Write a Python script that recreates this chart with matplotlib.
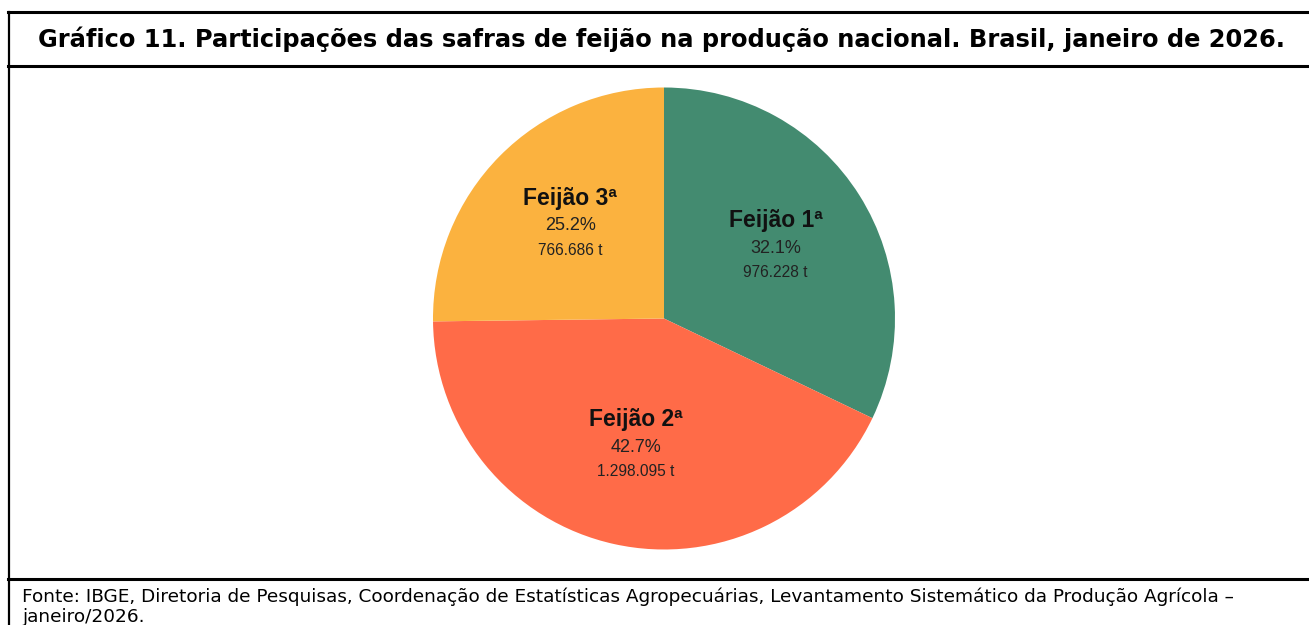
import os
import numpy as np
import matplotlib
matplotlib.use("Agg")
import matplotlib.pyplot as plt
from matplotlib import font_manager
from matplotlib.lines import Line2D
from matplotlib.font_manager import FontProperties

# data
safras = ["Feijão 1ª", "Feijão 2ª", "Feijão 3ª"]
participacao = [32.1, 42.7, 25.2]
toneladas = ["976.228 t", "1.298.095 t", "766.686 t"]
cores = ["#438B70", "#FF6B48", "#FBB23F"]

titulo = "Gráfico 11. Participações das safras de feijão na produção nacional. Brasil, janeiro de 2026."
fonte1 = ("Fonte: IBGE, Diretoria de Pesquisas, Coordenação de Estatísticas Agropecuárias, "
          "Levantamento Sistemático da Produção Agrícola –")
fonte2 = "janeiro/2026."


def liberation(bold=False):
    # pick the regular-width Liberation Sans file, never the Narrow one
    want = "LiberationSans-Bold.ttf" if bold else "LiberationSans-Regular.ttf"
    for f in font_manager.fontManager.ttflist:
        if os.path.basename(f.fname) == want:
            return f.fname
    return None


def props(size, bold=False):
    fn = liberation(bold)
    if fn:
        return FontProperties(fname=fn, size=size)
    return FontProperties(family="DejaVu Sans", size=size,
                          weight="bold" if bold else "normal")


W, H = 1309, 625
fig = plt.figure(figsize=(W / 100, H / 100), dpi=100)


def fx(x):
    return x / W


def fy(y):
    return 1 - y / H


def fit_width(txt, target_px):
    # shrink/grow the font until the text spans target_px
    r = fig.canvas.get_renderer()
    w = txt.get_window_extent(renderer=r).width
    txt.set_fontsize(txt.get_fontsize() * target_px / w)


# frame lines
def hline(y, x0=8, x1=W):
    fig.add_artist(Line2D([fx(x0), fx(x1)], [fy(y), fy(y)], color="black", lw=2.2,
                          transform=fig.transFigure))


hline(12)
hline(66)
hline(579)
fig.add_artist(Line2D([fx(8.5), fx(8.5)], [fy(12), fy(H)], color="black", lw=1.6,
                      transform=fig.transFigure))

t = fig.text(fx(661.5), fy(39), titulo, ha="center", va="center", fontsize=18,
             fontweight="bold", family="DejaVu Sans")
fit_width(t, 1253)

f1 = fig.text(fx(22), fy(597), fonte1, ha="left", va="center", fontsize=12,
              family="DejaVu Sans")
fit_width(f1, 1210)
f2 = fig.text(fx(22), fy(617), fonte2, ha="left", va="center",
              fontsize=f1.get_fontsize(), family="DejaVu Sans")

# pie
cx, cy, r = 664, 318.5, 231
ax = fig.add_axes([fx(cx - r), fy(cy + r), 2 * r / W, 2 * r / H])
wedges, _ = ax.pie(participacao, colors=cores, startangle=90, counterclock=False)
ax.set_xlim(-1, 1)
ax.set_ylim(-1, 1)
ax.set_aspect("equal")
ax.axis("off")

lab = dict(ha="center", va="center", textcoords="offset points")
for w, nome, p, ton in zip(wedges, safras, participacao, toneladas):
    ang = np.deg2rad((w.theta1 + w.theta2) / 2)
    x, y = 0.57 * np.cos(ang), 0.57 * np.sin(ang)
    ax.annotate(nome, (x, y), xytext=(0, 20), fontproperties=props(16.5, True),
                color="#111111", **lab)
    ax.annotate(f"{p:.1f}%", (x, y), xytext=(0, 0), fontproperties=props(13),
                color="#222222", **lab)
    ax.annotate(ton, (x, y), xytext=(0, -17.5), fontproperties=props(11.2),
                color="#222222", **lab)

fig.savefig("out.png", dpi=100)
